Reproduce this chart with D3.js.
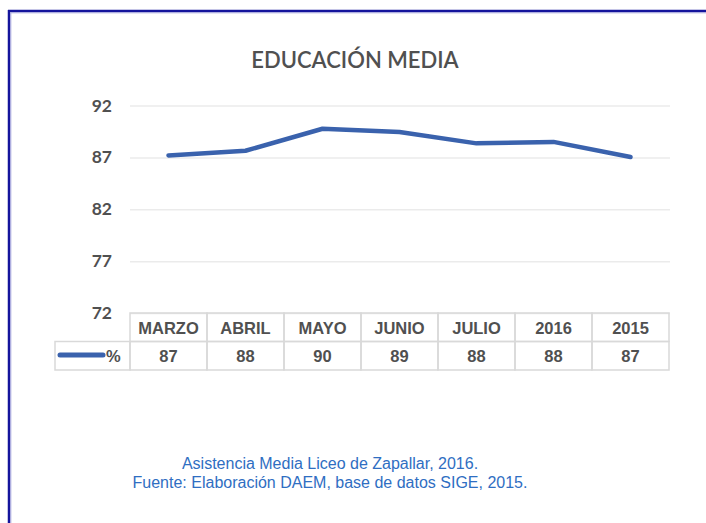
<!DOCTYPE html>
<html>
<head>
<meta charset="utf-8">
<script src="https://cdn.jsdelivr.net/npm/d3@7"></script>
<style>
  body { margin: 0; background: #fff; }
  svg { display: block; }
</style>
</head>
<body>
<svg id="chart" width="706" height="523"></svg>
<script>
const title = "EDUCACIÓN MEDIA";
const categories = ["MARZO", "ABRIL", "MAYO", "JUNIO", "JULIO", "2016", "2015"];
const values = [87.19, 87.64, 89.76, 89.45, 88.35, 88.49, 87.04];
const yTicks = [72, 77, 82, 87, 92];
const seriesName = "%";
const caption = [
  "Asistencia Media Liceo de Zapallar, 2016.",
  "Fuente: Elaboración DAEM, base de datos SIGE, 2015."
];

const svg = d3.select("#chart");
const lineColor = "#3a62ad";
const textGrey = "#505050";
const cellStroke = "#d9d9d9";

//Frame (left and top edges only)
svg.append("line").attr("x1", 9).attr("y1", 10).attr("x2", 9).attr("y2", 523)
  .attr("stroke", "#14149c").attr("stroke-width", 2.5);
svg.append("line").attr("x1", 8).attr("y1", 11).attr("x2", 706).attr("y2", 11)
  .attr("stroke", "#14149c").attr("stroke-width", 2.5);
svg.append("line").attr("x1", 10.8).attr("y1", 12.5).attr("x2", 10.8).attr("y2", 523)
  .attr("stroke", "#a6a6dc").attr("stroke-width", 1);
svg.append("line").attr("x1", 10).attr("y1", 12.8).attr("x2", 706).attr("y2", 12.8)
  .attr("stroke", "#a6a6dc").attr("stroke-width", 1);

//Title
svg.append("text")
  .attr("x", 355).attr("y", 68)
  .attr("text-anchor", "middle")
  .style("font-family", "Lato, 'Open Sans', sans-serif")
  .style("font-size", "22px")
  .style("font-weight", "600")
  .style("fill", textGrey)
  .text(title);

//Scales
const x = d3.scaleBand().domain(categories).range([130, 669]).padding(0);
const y = d3.scaleLinear().domain([72, 92]).range([313, 105.5]);

//Gridlines
svg.append("g")
  .attr("class", "grid")
  .attr("transform", "translate(130,0)")
  .call(d3.axisLeft(y).tickValues(yTicks).tickSize(-540).tickFormat(""))
  .call(g => g.select(".domain").remove())
  .call(g => g.selectAll("line").attr("stroke", "#ebebeb").attr("stroke-width", 1.5));

//Y axis labels
svg.append("g")
  .attr("class", "y-axis")
  .attr("transform", "translate(112,0)")
  .call(d3.axisLeft(y).tickValues(yTicks).tickSize(0).tickPadding(0))
  .call(g => g.select(".domain").remove())
  .call(g => g.selectAll("text")
    .style("font-family", "Lato, 'Open Sans', sans-serif")
    .style("font-weight", "700")
    .style("font-size", "17.5px")
    .style("fill", textGrey));

//Line
const line = d3.line()
  .x((d, i) => x(categories[i]) + x.bandwidth() / 2)
  .y(d => y(d));

svg.append("path")
  .datum(values)
  .attr("d", line)
  .attr("fill", "none")
  .attr("stroke", lineColor)
  .attr("stroke-width", 4.5)
  .attr("stroke-linejoin", "round")
  .attr("stroke-linecap", "round");

//Data table
const rowTop = 313, rowMid = 341.5, rowBot = 370;
const legendLeft = 55;
const table = svg.append("g").attr("class", "table");

table.selectAll("rect.head")
  .data(categories)
  .enter()
  .append("rect")
  .attr("class", "head")
  .attr("x", d => x(d))
  .attr("y", rowTop)
  .attr("width", x.bandwidth())
  .attr("height", rowMid - rowTop)
  .attr("fill", "none")
  .attr("stroke", cellStroke)
  .attr("stroke-width", 1.5);

table.selectAll("rect.val")
  .data(categories)
  .enter()
  .append("rect")
  .attr("class", "val")
  .attr("x", d => x(d))
  .attr("y", rowMid)
  .attr("width", x.bandwidth())
  .attr("height", rowBot - rowMid)
  .attr("fill", "none")
  .attr("stroke", cellStroke)
  .attr("stroke-width", 1.5);

table.append("rect")
  .attr("x", legendLeft)
  .attr("y", rowMid)
  .attr("width", x(categories[0]) - legendLeft)
  .attr("height", rowBot - rowMid)
  .attr("fill", "none")
  .attr("stroke", cellStroke)
  .attr("stroke-width", 1.5);

const tableFont = "'Liberation Sans', Arial, sans-serif";

table.selectAll("text.head")
  .data(categories)
  .enter()
  .append("text")
  .attr("class", "head")
  .attr("x", d => x(d) + x.bandwidth() / 2)
  .attr("y", 334)
  .attr("text-anchor", "middle")
  .style("font-family", tableFont)
  .style("font-weight", "700")
  .style("font-size", "16.5px")
  .style("fill", textGrey)
  .text(d => d);

table.selectAll("text.val")
  .data(values)
  .enter()
  .append("text")
  .attr("class", "val")
  .attr("x", (d, i) => x(categories[i]) + x.bandwidth() / 2)
  .attr("y", 362)
  .attr("text-anchor", "middle")
  .style("font-family", tableFont)
  .style("font-weight", "700")
  .style("font-size", "16.5px")
  .style("fill", textGrey)
  .text(d => d3.format(".0f")(d));

//Legend key
table.append("line")
  .attr("x1", 60).attr("y1", 355).attr("x2", 103).attr("y2", 355)
  .attr("stroke", lineColor)
  .attr("stroke-width", 5)
  .attr("stroke-linecap", "round");

table.append("text")
  .attr("x", 106).attr("y", 362)
  .style("font-family", tableFont)
  .style("font-weight", "700")
  .style("font-size", "16.5px")
  .style("fill", textGrey)
  .text(seriesName);

//Caption
svg.append("g")
  .selectAll("text")
  .data(caption)
  .enter()
  .append("text")
  .attr("x", 330)
  .attr("y", (d, i) => 469 + i * 18.5)
  .attr("text-anchor", "middle")
  .style("font-family", tableFont)
  .style("font-size", "16px")
  .style("fill", "#2f6ec2")
  .text(d => d);
</script>
</body>
</html>
